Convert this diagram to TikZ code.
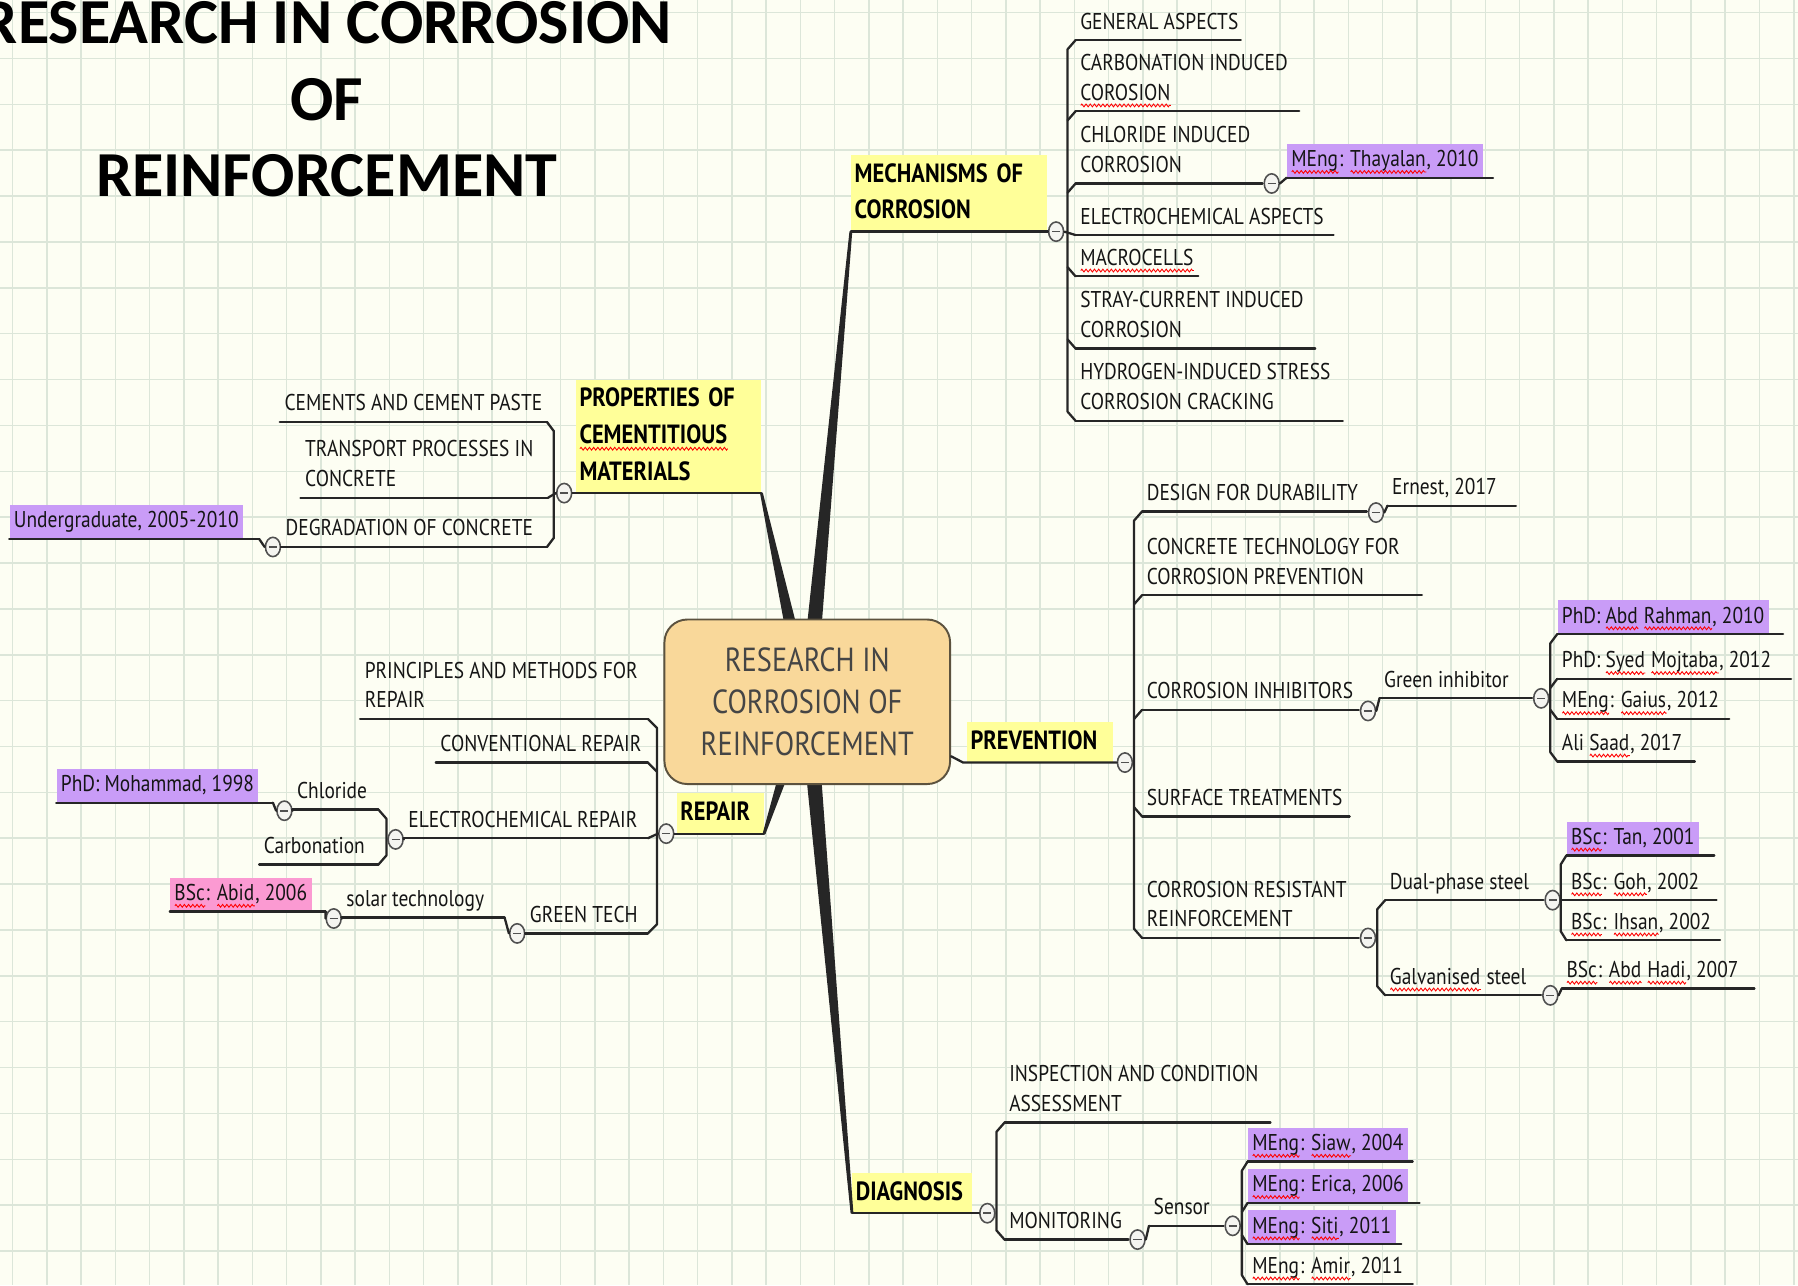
\documentclass[tikz,border=0pt]{standalone}
\usepackage{fontspec}
\usetikzlibrary{calc,shapes.geometric,decorations.pathmorphing}

\newfontfamily\mapfont[FakeStretch=0.85]{PT Sans}
\newfontfamily\titlefont{Carlito}
\newcommand\leaffont{\mapfont\fontsize{13}{17}\selectfont}
\newcommand\topicfont{\mapfont\bfseries\fontsize{15}{20.8}\selectfont}
\newcommand\corefont{\mapfont\fontsize{19}{24}\selectfont}
% red spell-check wave under a word
\newdimen\sqw
\newcommand\sq[1]{\leavevmode\setbox0\hbox{#1}\sqw=\wd0\rlap{\box0}%
  \tikz[x=1pt,y=1pt,baseline=0pt]{\path (0,0) (\sqw,0);
    \draw[red, line width=0.5pt, decorate, decoration={zigzag, amplitude=0.8pt, segment length=2.4pt}]
      (0,-3) -- (\sqw,-3);}}

\definecolor{paper}{HTML}{FDFEF3}
\definecolor{gridc}{HTML}{DCE6D9}
\definecolor{topicyellow}{HTML}{FFFF99}
\definecolor{corefill}{HTML}{F9D89A}
\definecolor{coreline}{HTML}{5C523E}
\definecolor{coretext}{HTML}{454545}
\definecolor{hlpurple}{HTML}{C99CF7}
\definecolor{hlpink}{HTML}{FB9AD2}
\definecolor{branch}{HTML}{262626}
\definecolor{leaftext}{HTML}{151515}
\definecolor{togline}{HTML}{505050}
\definecolor{togfill}{HTML}{F4F4F0}

\tikzset{
  gridline/.style={draw=gridc, line width=0.9pt},
  br/.style={draw=branch, line width=1.3pt, line cap=round, line join=round},
  leaf/.style={anchor=south west, inner xsep=2.5pt, inner ysep=1pt, align=left,
    font=\leaffont, text=leaftext, execute at begin node=\strut, execute at end node=\strut},
  hl/.style={fill=hlpurple},
  pk/.style={fill=hlpink},
  topic/.style={anchor=south west, fill=topicyellow, inner xsep=2pt, inner ysep=1pt, align=left,
    font=\topicfont, text width=#1*0.6502pt-4pt, execute at begin node=\strut, execute at end node=\strut},
  core/.style={rounded corners=13pt, fill=corefill, draw=coreline, line width=1.1pt,
    minimum width=250*0.6502pt, minimum height=144*0.6502pt, align=center, font=\corefont, text=coretext},
  tog/.style={ellipse, draw=togline, fill=togfill, line width=0.9pt, minimum width=8.5pt,
    minimum height=11pt, inner sep=0pt,
    path picture={\draw[togline, line width=0.9pt] ([xshift=-2.3pt]path picture bounding box.center)
      -- ([xshift=2.3pt]path picture bounding box.center);}},
  titletext/.style={align=center, inner sep=0pt, font=\titlefont\bfseries\fontsize{36.5}{43.5}\selectfont}
}

% tapered main branch from the hub to a topic
\newcommand\trunk[1]{\fill[branch] ($(hub)!4.8pt!90:(#1)$) -- ($(#1)!0.8pt!-90:(hub)$)
  -- ($(#1)!0.8pt!90:(hub)$) -- ($(hub)!4.8pt!-90:(#1)$) -- cycle;}

\begin{document}
\begin{tikzpicture}[x=0.022934cm, y=-0.022934cm]
\useasboundingbox (0,0) rectangle (1568,1121);
\fill[paper] (0,0) rectangle (1568,1121);
\foreach \i in {0,...,52} \draw[gridline] ({11+29.87*\i},0) -- ({11+29.87*\i},1121);
\foreach \j in {0,...,27} \draw[gridline] (0,{11+40*\j}) -- (1568,{11+40*\j});

\node[titletext, anchor=north] (title) at (285,1) {RESEARCH IN CORROSION\\OF\\REINFORCEMENT};

\coordinate (hub) at (704,612);

% main topics
\node[topic=171] (mech) at (742,202) {MECHANISMS OF\\CORROSION};
\node[topic=162] (prop) at (502,430) {PROPERTIES OF\\\sq{CEMENTITIOUS}\\MATERIALS};
\node[topic=76] (rep) at (590,727) {REPAIR};
\node[topic=128] (prev) at (843,665) {PREVENTION};
\node[topic=105] (diag) at (743,1058) {DIAGNOSIS};

\trunk{mech.south west}
\trunk{prop.south east}
\trunk{rep.south east}
\trunk{diag.south west}

\node[core] (core) at (hub) {RESEARCH IN\\CORROSION OF\\REINFORCEMENT};

% collapse buttons
\node[tog] (t-mech) at (921,202) {};
\node[tog] (t-ch) at (1109,160) {};
\node[tog] (t-prop) at (492,430) {};
\node[tog] (t-dc) at (238,477) {};
\node[tog] (t-rep) at (581,727) {};
\node[tog] (t-er) at (345,732) {};
\node[tog] (t-cl) at (248,707) {};
\node[tog] (t-gt) at (451,814) {};
\node[tog] (t-st) at (291,801) {};
\node[tog] (t-prev) at (981,665) {};
\node[tog] (t-dd) at (1200,447) {};
\node[tog] (t-ci) at (1193,620) {};
\node[tog] (t-gi) at (1344,609) {};
\node[tog] (t-rr) at (1193,818) {};
\node[tog] (t-dp) at (1354,785) {};
\node[tog] (t-gv) at (1352,868) {};
\node[tog] (t-diag) at (861,1058) {};
\node[tog] (t-mn) at (992,1081) {};
\node[tog] (t-se) at (1075,1069) {};

% mechanisms
\node[leaf] (ga) at (938,35) {GENERAL ASPECTS};
\node[leaf] (cb) at (938,97) {CARBONATION INDUCED\\\sq{COROSION}};
\node[leaf] (ch) at (938,160) {CHLORIDE INDUCED\\CORROSION};
\node[leaf] (ea) at (938,205) {ELECTROCHEMICAL ASPECTS};
\node[leaf] (mc) at (938,241) {\sq{MACROCELLS}};
\node[leaf] (sc) at (938,304) {STRAY-CURRENT INDUCED\\CORROSION};
\node[leaf] (hy) at (938,367) {HYDROGEN-INDUCED STRESS\\CORROSION CRACKING};
\node[leaf, hl] (th) at (1122,155) {\sq{MEng}: \sq{Thayalan}, 2010};

% properties
\node[leaf] (cp) at (244,368) {CEMENTS AND CEMENT PASTE};
\node[leaf] (tp) at (262,434) {TRANSPORT PROCESSES IN\\CONCRETE};
\node[leaf] (dc) at (245,477) {DEGRADATION OF CONCRETE};
\node[leaf, hl] (ug) at (8,470) {Undergraduate, 2005-2010};

% repair
\node[leaf] (pm) at (314,627) {PRINCIPLES AND METHODS FOR\\REPAIR};
\node[leaf] (cr) at (380,665) {CONVENTIONAL REPAIR};
\node[leaf] (er) at (352,731) {ELECTROCHEMICAL REPAIR};
\node[leaf] (cl) at (255,706) {Chloride};
\node[leaf] (ca) at (226,754) {Carbonation};
\node[leaf, hl] (mo) at (49,700) {PhD: Mohammad, 1998};
\node[leaf] (gt) at (458,814) {GREEN TECH};
\node[leaf] (st) at (298,800) {solar technology};
\node[leaf, pk] (ab) at (148,795) {\sq{BSc}: \sq{Abid}, 2006};

% prevention
\node[leaf] (dd) at (996,446) {DESIGN FOR DURABILITY};
\node[leaf] (en) at (1210,441) {Ernest, 2017};
\node[leaf] (ct) at (996,519) {CONCRETE TECHNOLOGY FOR\\CORROSION PREVENTION};
\node[leaf] (ci) at (996,619) {CORROSION INHIBITORS};
\node[leaf] (gi) at (1203,609) {Green inhibitor};
\node[leaf, hl] (ar) at (1358,553) {PhD: \sq{Abd} \sq{Rahman}, 2010};
\node[leaf] (sm) at (1358,592) {PhD: \sq{Syed} \sq{Mojtaba}, 2012};
\node[leaf] (gs) at (1358,627) {\sq{MEng}: \sq{Gaius}, 2012};
\node[leaf] (as) at (1358,664) {Ali \sq{Saad}, 2017};
\node[leaf] (tr) at (996,712) {SURFACE TREATMENTS};
\node[leaf] (rr) at (996,818) {CORROSION RESISTANT\\REINFORCEMENT};
\node[leaf] (dp) at (1208,785) {Dual-phase steel};
\node[leaf, hl] (tn) at (1366,746) {\sq{BSc}: Tan, 2001};
\node[leaf] (gh) at (1366,785) {\sq{BSc}: \sq{Goh}, 2002};
\node[leaf] (ih) at (1366,820) {\sq{BSc}: \sq{Ihsan}, 2002};
\node[leaf] (gv) at (1208,868) {\sq{Galvanised} steel};
\node[leaf] (ah) at (1362,862) {\sq{BSc}: \sq{Abd} \sq{Hadi}, 2007};

% diagnosis
\node[leaf] (ic) at (876,979) {INSPECTION AND CONDITION\\ASSESSMENT};
\node[leaf] (mn) at (876,1081) {MONITORING};
\node[leaf] (se) at (1002,1069) {Sensor};
\node[leaf, hl] (sw) at (1088,1013) {\sq{MEng}: \sq{Siaw}, 2004};
\node[leaf, hl] (ec) at (1088,1049) {\sq{MEng}: Erica, 2006};
\node[leaf, hl] (si) at (1088,1085) {\sq{MEng}: \sq{Siti}, 2011};
\node[leaf] (am) at (1088,1120) {\sq{MEng}: \sq{Amir}, 2011};

% underlines
\foreach \n/\l in {ga/144, cb/195, ch/163, ea/225, mc/107, sc/209, hy/233, th/180,
    cp/233, tp/216, dc/232, ug/218, pm/251, cr/185, er/213, cl/75, ca/104, mo/189,
    gt/107, st/142, ab/136, dd/196, en/112, ct/244, ci/189, gi/133, ar/197, sm/204,
    gs/150, as/120, tr/181, rr/189, dp/138, tn/129, gh/131, ih/134, gv/136, ah/168,
    ic/232, mn/108, se/65, sw/144, ec/150, si/134, am/144}
  \draw[br] (\n.south west) -- ++(\l,0) coordinate (\n-e);

% topic lines
\draw[br] (mech.south west) -- (t-mech.west);
\draw[br] (t-prop.east) -- (prop.south east);
\draw[br] (t-rep.east) -- (rep.south east);
\draw[br] ([yshift=-31pt]core.east) -- ([xshift=-2pt]prev.south west) -- (t-prev.west);
\draw[br] (diag.south west) -- (t-diag.west);

% mechanisms
\draw[br] (ga.south west) -- ++(-7,8) -- ([shift={(-7,-8)}]hy.south west) -- (hy.south west);
\foreach \n in {cb,ch} \draw[br] (\n.south west) -- ++(-7,8);
\foreach \n in {mc,sc} \draw[br] (\n.south west) -- ++(-7,-8);
\draw[br] (t-mech.east) -- (ea.south west);
\draw[br] (t-ch.east) -- (th.south west);

% properties
\draw[br] (cp-e) -- ++(6,8) -- ([shift={(6,-8)}]dc-e) -- (dc-e);
\draw[br] (t-prop.west) -- (tp-e);
\draw[br] (t-dc.east) -- (dc.south west);
\draw[br] (ug-e) -- (t-dc.west);

% repair
\draw[br] (pm-e) -- ++(8,8) -- ([shift={(8,-8)}]gt-e) -- (gt-e);
\draw[br] (cr-e) -- ++(8,8);
\draw[br] (t-rep.west) -- (er-e);
\draw[br] (t-er.east) -- (er.south west);
\draw[br] (cl-e) -- ++(7,8) -- ([shift={(7,-8)}]ca-e) -- (ca-e);
\draw[br] (t-cl.east) -- (cl.south west);
\draw[br] (mo-e) -- (t-cl.west);
\draw[br] (t-gt.east) -- (gt.south west);
\draw[br] (st-e) -- (t-gt.west);
\draw[br] (t-st.east) -- (st.south west);
\draw[br] (ab-e) -- (t-st.west);

% prevention
\draw[br] (dd.south west) -- ++(-7,8) -- ([shift={(-7,-8)}]rr.south west) -- (rr.south west);
\foreach \n in {ct,ci} \draw[br] (\n.south west) -- ++(-7,8);
\draw[br] (tr.south west) -- ++(-7,-8);
\draw[br] (t-dd.east) -- (en.south west);
\draw[br] (t-ci.east) -- (gi.south west);
\draw[br] (ar.south west) -- ++(-6,8) -- ([shift={(-6,-8)}]as.south west) -- (as.south west);
\draw[br] (sm.south west) -- ++(-6,8);
\draw[br] (gs.south west) -- ++(-6,-8);
\draw[br] (dp.south west) -- ++(-7,8) -- ([shift={(-7,-8)}]gv.south west) -- (gv.south west);
\draw[br] (tn.south west) -- ++(-5,8) -- ([shift={(-5,-8)}]ih.south west) -- (ih.south west);
\draw[br] (t-dp.east) -- (gh.south west);
\draw[br] (t-gv.east) -- (ah.south west);

% diagnosis
\draw[br] (ic.south west) -- ++(-7,8) -- ([shift={(-7,-8)}]mn.south west) -- (mn.south west);
\draw[br] (t-mn.east) -- (se.south west);
\draw[br] (sw.south west) -- ++(-5,8) -- ([shift={(-5,-8)}]am.south west) -- (am.south west);
\draw[br] (ec.south west) -- ++(-5,8);
\draw[br] (si.south west) -- ++(-5,-8);
\end{tikzpicture}
\end{document}
